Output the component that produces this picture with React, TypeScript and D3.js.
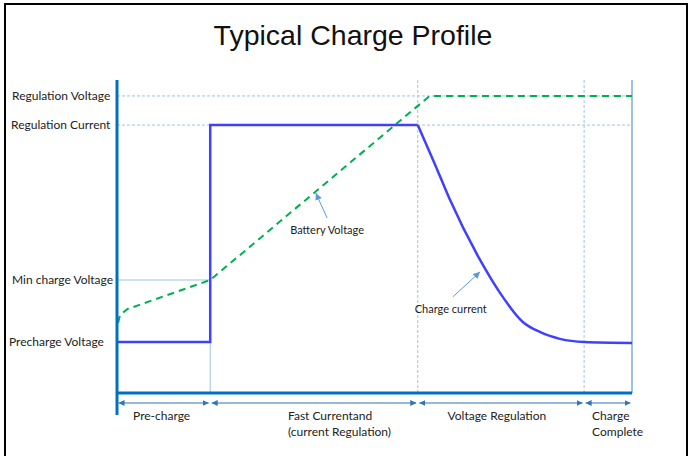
import * as d3 from "d3";

const title = "Typical Charge Profile";

// y-axis levels (0 = baseline, 100 = top of axis)
const levelNames = ["Regulation Voltage", "Regulation Current", "Min charge Voltage", "Precharge Voltage"];
const levelValues = [94.9, 85.6, 36.1, 16.3];

// phases along the time axis (0..100)
const phaseNames = [["Pre-charge"], ["Fast Currentand", "(current Regulation)"], ["Voltage Regulation"], ["Charge", "Complete"]];
const phaseBounds = [0, 18.1, 58.4, 90.7, 100];

// charge current: step part then taper
const currentStepT = [0, 18.1, 18.1, 58.4];
const currentStepV = [16.3, 16.3, 85.6, 85.6];
const currentTaperT = [58.4, 61.5, 64.5, 70.5, 74.4, 78.8, 82.1, 86, 90.7, 100];
const currentTaperV = [85.6, 74, 62.3, 42.5, 31.9, 22.7, 19.5, 17.3, 16.3, 16.0];

// battery voltage
const voltageT = [0.2, 0.6, 2, 18.1, 60.7, 100];
const voltageV = [22.4, 24.9, 26.8, 36.1, 94.9, 94.9];

// annotations: label, label anchor, arrow tail, arrow tip (data units)
const noteText = ["Battery Voltage", "Charge current"];
const noteAt = [[40.8, 52.1], [64.8, 26.8]];
const noteTail = [[40.8, 55.9], [65.2, 30.7]];
const noteTip = [[38.6, 63.9], [70.5, 38.7]];

const W = 696;
const H = 456;
const font = "Lato, 'Open Sans', sans-serif";

export default function App() {
  const x = d3.scaleLinear().domain([0, 100]).range([117, 632]);
  const y = d3.scaleLinear().domain([0, 100]).range([393, 80]);

  const line = d3
    .line<[number, number]>()
    .x((d) => x(d[0]))
    .y((d) => y(d[1]));
  const smooth = d3
    .line<[number, number]>()
    .x((d) => x(d[0]))
    .y((d) => y(d[1]))
    .curve(d3.curveMonotoneX);

  const stepPts = currentStepT.map((t, i) => [t, currentStepV[i]] as [number, number]);
  const taperPts = currentTaperT.map((t, i) => [t, currentTaperV[i]] as [number, number]);
  const voltPts = voltageT.map((t, i) => [t, voltageV[i]] as [number, number]);

  const axisBlue = "#0070c0";
  const grid = "#9dc3e6";
  const arrowBlue = "#2e75b6";

  // label placement tweaks (left labels start x)
  const labelStart = [12, 11, 12, 9];

  return (
    <svg
      width={W}
      height={H}
      style={{ position: "fixed", left: 0, top: 0, background: "#fff" }}
    >
      <defs>
        <marker id="tri" viewBox="0 0 10 10" refX="10" refY="5" markerWidth="6" markerHeight="6" markerUnits="userSpaceOnUse" orient="auto-start-reverse">
          <path d="M0,0 L10,5 L0,10 z" fill={arrowBlue} />
        </marker>
        <marker id="note" viewBox="0 0 10 10" refX="10" refY="5" markerWidth="7" markerHeight="7" markerUnits="userSpaceOnUse" orient="auto">
          <path d="M0,0 L10,5 L0,10 z" fill="#5b9bd5" />
        </marker>
      </defs>

      {/* frame */}
      <rect x={5} y={4} width={682} height={H + 10} fill="none" stroke="#000" strokeWidth={2} />

      <text x={353} y={45} textAnchor="middle" fontFamily="'Liberation Sans', Arial, sans-serif" fontSize={28.5} fill="#111">
        {title}
      </text>

      {/* dashed reference lines */}
      {levelValues.slice(0, 2).map((v, i) => (
        <line key={"h" + i} x1={x(0)} x2={x(100)} y1={y(v)} y2={y(v)} stroke={grid} strokeDasharray="3,2" strokeWidth={1} />
      ))}
      {phaseBounds.slice(2, 4).map((b, i) => (
        <line key={"v" + i} x1={x(b)} x2={x(b)} y1={y(100)} y2={y(0)} stroke={grid} strokeDasharray="3,2" strokeWidth={1} />
      ))}
      {/* solid guides */}
      <line x1={x(0)} x2={x(phaseBounds[1])} y1={y(levelValues[2])} y2={y(levelValues[2])} stroke={grid} strokeWidth={1} />
      <line x1={x(phaseBounds[1])} x2={x(phaseBounds[1])} y1={y(levelValues[2])} y2={y(0)} stroke={grid} strokeWidth={1} />
      <line x1={x(100)} x2={x(100)} y1={y(100)} y2={y(0)} stroke="#5b9bd5" strokeWidth={1.2} />

      {/* series */}
      <path d={line(voltPts) ?? ""} fill="none" stroke="#00b050" strokeWidth={2} strokeDasharray="7,5" />
      <path d={line(stepPts) ?? ""} fill="none" stroke="#4040ff" strokeWidth={2.5} strokeLinejoin="miter" />
      <path d={smooth(taperPts) ?? ""} fill="none" stroke="#4040ff" strokeWidth={2.5} />

      {/* axes */}
      <line x1={x(0)} x2={x(0)} y1={y(100)} y2={415} stroke={axisBlue} strokeWidth={3} />
      <line x1={x(0)} x2={x(100)} y1={y(0)} y2={y(0)} stroke={axisBlue} strokeWidth={3} />

      {/* level labels */}
      {levelNames.map((name, i) => (
        <text key={name} x={labelStart[i]} y={y(levelValues[i])} dy="0.35em" fontFamily={font} fontSize={12} fill="#222">
          {name}
        </text>
      ))}

      {/* phase arrows and labels */}
      {phaseNames.map((lines, i) => {
        const a = x(phaseBounds[i]);
        const b = x(phaseBounds[i + 1]);
        const mid = (a + b) / 2;
        const anchor = i === 0 || i === 2 ? "middle" : "start";
        const tx = i === 0 ? mid - 2 : i === 1 ? mid - 26 : i === 2 ? mid - 4 : a + 8;
        return (
          <g key={i}>
            <line x1={a + 1.5} x2={b - 1.5} y1={403} y2={403} stroke={arrowBlue} strokeWidth={1} markerStart="url(#tri)" markerEnd="url(#tri)" />
            {lines.map((s, j) => (
              <text key={j} x={tx} y={416 + j * 16} dy="0.35em" textAnchor={anchor} fontFamily={font} fontSize={12} fill="#222">
                {s}
              </text>
            ))}
          </g>
        );
      })}

      {/* annotations */}
      {noteText.map((s, i) => (
        <g key={s}>
          <line x1={x(noteTail[i][0])} y1={y(noteTail[i][1])} x2={x(noteTip[i][0])} y2={y(noteTip[i][1])} stroke="#5b9bd5" strokeWidth={1} markerEnd="url(#note)" />
          <text x={x(noteAt[i][0])} y={y(noteAt[i][1])} dy="0.35em" textAnchor="middle" fontFamily={font} fontSize={11} fill="#222">
            {s}
          </text>
        </g>
      ))}
    </svg>
  );
}
